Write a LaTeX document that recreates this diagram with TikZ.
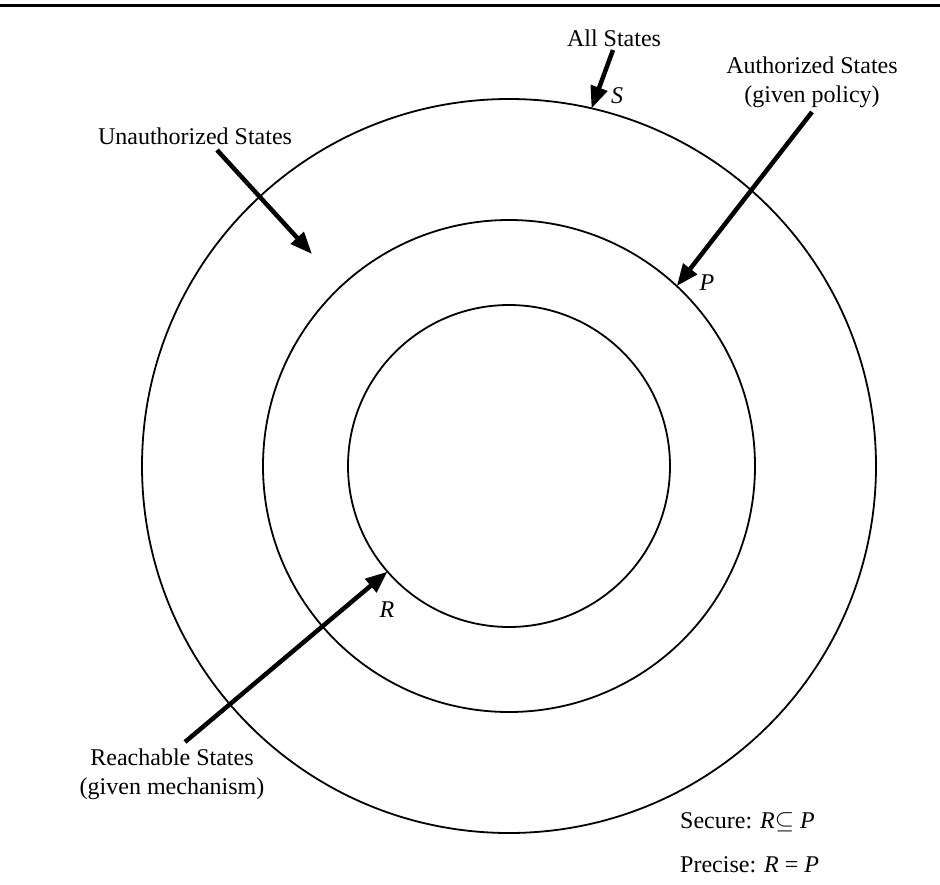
\documentclass[tikz,border=0pt]{standalone}
\usepackage{fontspec}
\setmainfont{Liberation Serif}
\usetikzlibrary{arrows.meta}
\begin{document}
\begin{tikzpicture}[x=1pt,y=-1pt,
  ring/.style={circle,draw,line width=1.8pt,inner sep=0pt,outer sep=0pt},
  lbl/.style={font=\fontsize{24}{29}\selectfont, inner sep=0pt, align=center},
  ptr/.style={line width=4.5pt, -{Triangle[length=22pt,width=17pt]}},
]
\useasboundingbox (0,0) rectangle (940,884);
\coordinate (ruleL) at (0,5);
\coordinate (ruleR) at (940,5);
\draw[line width=3pt] (ruleL) -- (ruleR);
% circles
\node[ring,minimum size=734pt] (S) at (509,466) {};
\node[ring,minimum size=492pt] (P) at (509,466) {};
\node[ring,minimum size=322pt] (R) at (509,466) {};
% labels
\node[lbl] (allst) at (614,38) {All States};
\node[lbl] (auth) at (812,82) {Authorized States\\(given policy)};
\node[lbl] (unauth) at (195,136) {Unauthorized States};
\node[lbl] (reach) at (172,774) {Reachable States\\(given mechanism)};
\node[lbl,anchor=west] (sec) at (680,822) {Secure: \textit{R}$\subseteq$ \textit{P}};
\node[lbl,anchor=west] (prec) at (680,865) {Precise: \textit{R} = \textit{P}};
\node[lbl] (slbl) at (617,96) {\textit{S}};
\node[lbl] (plbl) at (707,283) {\textit{P}};
\node[lbl] (rlbl) at (387,610) {\textit{R}};
% arrows
\coordinate (a1) at (613,50);
\draw[ptr] (a1) -- (S.77);
\coordinate (a2) at (812,112);
\draw[ptr] (a2) -- (P.47);
\coordinate (a3) at (217,150);
\coordinate (a3e) at (312,254);
\draw[ptr] (a3) -- (a3e);
\coordinate (a4) at (185,742);
\draw[ptr] (a4) -- (R.221);
\end{tikzpicture}
\end{document}
